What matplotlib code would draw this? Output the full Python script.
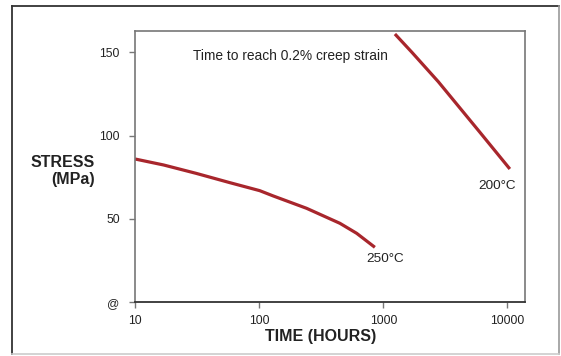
import numpy as np
import matplotlib
matplotlib.use("Agg")
import matplotlib.pyplot as plt
from matplotlib.lines import Line2D

plt.rcParams['font.family'] = ['Liberation Sans', 'DejaVu Sans']

# creep curves (time in hours, stress in MPa)
t_250 = [10, 17, 31, 58, 101, 130, 241, 447, 610, 855]
s_250 = [86, 82.4, 77.4, 71.8, 67, 63.8, 56.4, 47.4, 41.4, 33]

t_200 = [1240, 1700, 2770, 6000, 10450]
s_200 = [161, 150, 132.4, 102, 80]

x_ticks = [10, 100, 1000, 10000]
x_labels = ['10', '100', '1000', '10000']
y_ticks = [0, 50, 100, 150]
y_labels = ['@', '50', '100', '150']

red = '#a8262c'
W, H = 561, 356

fig = plt.figure(figsize=(5.61, 3.56), dpi=100)
ax = fig.add_axes([135 / W, (H - 302.3) / H, (525 - 135) / W, (302.3 - 31) / H])

ax.plot(t_250, s_250, color=red, lw=2.3, solid_capstyle='butt')
ax.plot(t_200, s_200, color=red, lw=2.3, solid_capstyle='butt')

ax.set_xscale('log')
ax.set_xlim(10, 13840)
ax.set_ylim(0, 162.8)
ax.set_xticks(x_ticks)
ax.set_xticklabels(x_labels)
ax.set_yticks(y_ticks)
ax.set_yticklabels(y_labels)
ax.xaxis.set_minor_locator(plt.NullLocator())

ax.tick_params(axis='both', direction='out', length=4, width=1, color='#777777',
               labelsize=8.7, labelcolor='#222222')
ax.tick_params(axis='y', pad=7)
ax.tick_params(axis='x', pad=5)
for side in ['left', 'top', 'right']:
    ax.spines[side].set_color('#777777')
    ax.spines[side].set_linewidth(1.2)
ax.spines['bottom'].set_color('#333333')
ax.spines['bottom'].set_linewidth(1.3)

fig.text(193 / W, 1 - 55.7 / H, 'Time to reach 0.2% creep strain',
         fontsize=9.9, color='#222222', ha='left', va='center')
fig.text(497 / W, 1 - 186 / H, '200°C', fontsize=9.7, color='#222222',
         ha='center', va='center')
fig.text(385 / W, 1 - 259.3 / H, '250°C', fontsize=9.7, color='#222222',
         ha='center', va='center')

fig.text(94.5 / W, 1 - 171 / H, 'STRESS\n(MPa)', fontsize=11.5, fontweight='bold',
         color='#222222', ha='right', va='center', multialignment='right',
         linespacing=1.1)
fig.text(321 / W, 1 - 336.7 / H, 'TIME (HOURS)', fontsize=11.5, fontweight='bold',
         color='#222222', ha='center', va='center')

# outer frame
x0, x1 = 11.5 / W, 559 / W
y0, y1 = 1 - 354 / H, 1 - 5.5 / H
fig.add_artist(Line2D([x0, x1], [y1, y1], color='#333333', lw=1.3, transform=fig.transFigure))
fig.add_artist(Line2D([x0, x0], [y0, y1], color='#333333', lw=1.3, transform=fig.transFigure))
fig.add_artist(Line2D([x1, x1], [y0, y1], color='#999999', lw=1.2, transform=fig.transFigure))
fig.add_artist(Line2D([x0, x1], [y0, y0], color='#cccccc', lw=1.2, transform=fig.transFigure))

fig.savefig('out.png', dpi=100)
